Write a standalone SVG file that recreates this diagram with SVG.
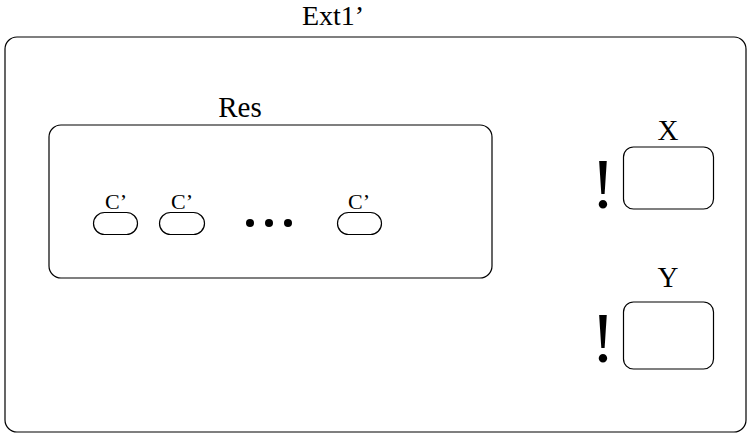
<svg xmlns="http://www.w3.org/2000/svg" width="752" height="437" viewBox="0 0 752 437">
<style>
.b{fill:none;stroke:#000;stroke-width:1.2}
text{font-family:"Liberation Serif","Times New Roman","DejaVu Serif",serif;fill:#000;text-anchor:middle}
.l{font-size:29px}
.h{font-size:28px}
.s{font-size:22px}
.e{font-size:72px}
</style>
<rect width="752" height="437" fill="#fff"/>
<g id="ext1">
<rect class="b" x="5" y="37" width="741" height="395" rx="12"/>
<text class="h" x="333" y="25">Ext1’</text>
</g>
<g id="res">
<rect class="b" x="49" y="125" width="443" height="153" rx="12"/>
<text class="l" x="240" y="117">Res</text>
</g>
<g id="c1">
<rect class="b" x="93.5" y="212.5" width="44" height="22" rx="11"/>
<text class="s" x="116" y="209">C’</text>
</g>
<g id="c2">
<rect class="b" x="159.5" y="212.5" width="45" height="22" rx="11"/>
<text class="s" x="182" y="209">C’</text>
</g>
<g id="dots">
<circle cx="250" cy="223" r="4"/>
<circle cx="269" cy="223" r="4"/>
<circle cx="288" cy="223" r="4"/>
</g>
<g id="c3">
<rect class="b" x="337.5" y="212.5" width="44" height="22" rx="11"/>
<text class="s" x="359" y="209">C’</text>
</g>
<g id="x">
<rect class="b" x="623.5" y="147" width="90" height="62" rx="10"/>
<text class="l" x="668" y="140">X</text>
<text class="e" x="603" y="208">!</text>
</g>
<g id="y">
<rect class="b" x="623.5" y="302" width="90" height="67" rx="10"/>
<text class="l" x="668" y="287">Y</text>
<text class="e" x="603" y="362">!</text>
</g>
<g id="connectors"/>
</svg>
